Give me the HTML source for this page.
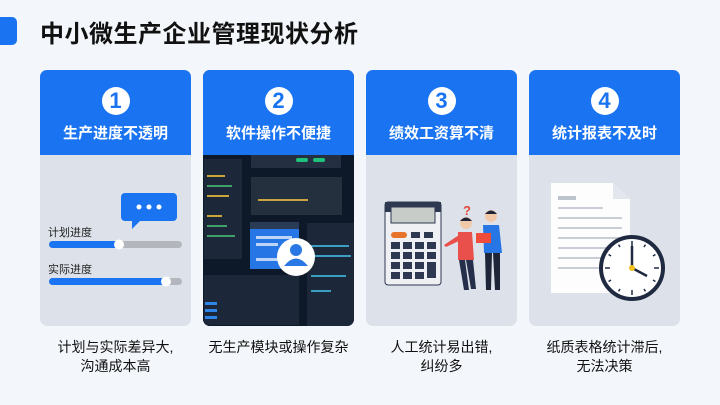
<!DOCTYPE html>
<html><head><meta charset="utf-8"><style>
*{margin:0;padding:0;box-sizing:border-box}
body{width:720px;height:405px;background:#f3f6fb;font-family:"Liberation Sans","Noto Sans CJK SC",sans-serif;position:relative;overflow:hidden}
.bar{position:absolute;left:-8px;top:17px;width:25px;height:28px;background:#1a73f0;border-radius:5px}
h1{position:absolute;left:40px;top:14px;font-size:24px;font-weight:bold;color:#111;letter-spacing:0.5px}
.card{position:absolute;top:70px;width:151px;height:256px;border-radius:7px;overflow:hidden;background:#dde2ea}
.hd{height:85px;background:#1a74f2;color:#fff;text-align:center}
.num{width:28px;height:28px;border-radius:50%;background:#fff;color:#1a74f2;font-weight:bold;font-size:22px;line-height:28px;margin:0 auto;position:relative;top:17px}
.tt{position:relative;top:24px;font-size:15px;font-weight:bold}
.cap{position:absolute;top:338px;width:151px;text-align:center;font-size:14px;line-height:19px;color:#111}
svg{position:absolute;left:0;top:85px}
</style></head><body>
<div class="bar"></div>
<h1>中小微生产企业管理现状分析</h1>

<div class="card" style="left:40px"><div class="hd"><div class="num">1</div><div class="tt">生产进度不透明</div></div>
<svg width="151" height="171">
<rect x="81" y="38" width="56" height="28" rx="4" fill="#1a74f2"/><path d="M92 64 L92 74 L102 64Z" fill="#1a74f2"/>
<circle cx="99" cy="52" r="2.5" fill="#fff"/><circle cx="109" cy="52" r="2.5" fill="#fff"/><circle cx="119" cy="52" r="2.5" fill="#fff"/>
<text x="8" y="81" font-size="11" fill="#222">计划进度</text>
<rect x="9" y="86" width="133" height="7" rx="3.5" fill="#b3b7bd"/><rect x="9" y="86" width="71" height="7" rx="3.5" fill="#1a74f2"/><circle cx="79" cy="89.5" r="5" fill="#fff"/>
<text x="8" y="118" font-size="11" fill="#222">实际进度</text>
<rect x="9" y="123" width="133" height="7" rx="3.5" fill="#b3b7bd"/><rect x="9" y="123" width="118" height="7" rx="3.5" fill="#1a74f2"/><circle cx="126" cy="126.5" r="5" fill="#fff"/>
</svg></div>
<div class="cap" style="left:40px">计划与实际差异大,<br>沟通成本高</div>

<div class="card" style="left:203px;background:#0f1a2c"><div class="hd"><div class="num">2</div><div class="tt">软件操作不便捷</div></div>
<svg width="151" height="171">
<rect x="0" y="0" width="151" height="171" fill="#0d1829"/>
<rect x="1" y="4" width="38" height="100" fill="#1c2739"/>
<g fill="#c9a43a"><rect x="4" y="20" width="18" height="2"/><rect x="4" y="40" width="22" height="2"/><rect x="4" y="60" width="15" height="2"/></g>
<g fill="#3fa06a"><rect x="4" y="30" width="25" height="2"/><rect x="4" y="70" width="20" height="2"/><rect x="4" y="80" width="28" height="2"/></g>
<rect x="48" y="0" width="90" height="13" fill="#242f42"/><rect x="93" y="3" width="12" height="4" rx="2" fill="#1ec27b"/><rect x="110" y="3" width="12" height="4" rx="2" fill="#1ec27b"/>
<rect x="48" y="22" width="91" height="38" fill="#25303f"/><rect x="55" y="44" width="50" height="2" fill="#c9a43a"/>
<rect x="47" y="67" width="49" height="47" fill="#2776e6"/><rect x="47" y="67" width="49" height="7" fill="#2a3b55"/>
<rect x="53" y="81" width="36" height="3" fill="#bcd4f7"/><rect x="53" y="88" width="22" height="3" fill="#bcd4f7"/><rect x="53" y="103" width="26" height="3" fill="#bcd4f7"/>
<rect x="104" y="68" width="47" height="105" fill="#1c2739"/>
<g fill="#3a9fc0"><rect x="108" y="90" width="38" height="2"/><rect x="108" y="100" width="40" height="2"/><rect x="108" y="120" width="35" height="2"/><rect x="108" y="135" width="20" height="2"/></g>
<rect x="1" y="120" width="95" height="50" fill="#1c2739"/>
<g fill="#2f86e8"><rect x="2" y="147" width="12" height="3"/><rect x="2" y="154" width="12" height="3"/><rect x="2" y="161" width="12" height="3"/></g>
<circle cx="93" cy="102" r="19" fill="#fff"/><circle cx="93" cy="95" r="6" fill="#2a78e4"/><path d="M81 111 Q93 96 105 111Z" fill="#2a78e4"/>
</svg></div>
<div class="cap" style="left:203px">无生产模块或操作复杂</div>

<div class="card" style="left:366px"><div class="hd"><div class="num">3</div><div class="tt">绩效工资算不清</div></div>
<svg width="151" height="171">
<rect x="19" y="47" width="56" height="83" rx="3" fill="#eef0f3" stroke="#2e3850" stroke-width="1"/><rect x="19" y="47" width="56" height="10" fill="#2e3850"/>
<rect x="25" y="52" width="44" height="16" fill="#c8ccc8" stroke="#2e3850"/>
<rect x="25" y="77" width="16" height="6" rx="3" fill="#e8742a"/>
<g fill="#2e3850"><rect x="45" y="77" width="9" height="6"/><rect x="58" y="77" width="9" height="6"/>
<rect x="25" y="87" width="9" height="7"/><rect x="37" y="87" width="9" height="7"/><rect x="49" y="87" width="9" height="7"/><rect x="61" y="87" width="9" height="7"/>
<rect x="25" y="97" width="9" height="7"/><rect x="37" y="97" width="9" height="7"/><rect x="49" y="97" width="9" height="7"/><rect x="61" y="97" width="9" height="7"/>
<rect x="25" y="107" width="9" height="7"/><rect x="37" y="107" width="9" height="7"/><rect x="49" y="107" width="9" height="7"/><rect x="61" y="107" width="9" height="16"/>
<rect x="25" y="117" width="9" height="7"/><rect x="37" y="117" width="9" height="7"/><rect x="49" y="117" width="9" height="7"/></g>
<text x="97" y="60" font-size="13" font-weight="bold" fill="#e04a3a">?</text>
<circle cx="100" cy="68" r="6" fill="#f2c9a8"/><path d="M94 66 Q100 59 106 66Z" fill="#1e2538"/>
<path d="M92 77 L106 77 L108 105 L92 105Z" fill="#e9504b"/><path d="M93 80 L78 90 L80 92 L95 85Z" fill="#e9504b"/>
<path d="M93 105 L99 105 L103 135 L98 135Z M100 105 L107 105 L110 134 L105 134Z" fill="#252e4a"/>
<circle cx="125" cy="61" r="6" fill="#f2c9a8"/><path d="M119 59 Q125 52 131 59Z" fill="#1e2538"/>
<path d="M117 70 L133 70 L136 98 L118 98Z" fill="#2776e6"/><rect x="110" y="78" width="15" height="10" fill="#ef4c3a"/>
<path d="M119 98 L126 98 L125 135 L120 135Z M127 98 L134 98 L134 135 L129 135Z" fill="#1e2538"/>
</svg></div>
<div class="cap" style="left:366px">人工统计易出错,<br>纠纷多</div>

<div class="card" style="left:529px"><div class="hd"><div class="num">4</div><div class="tt">统计报表不及时</div></div>
<svg width="151" height="171">
<path d="M22 28 L84 28 L101 44 L101 138 L22 138Z" fill="#fdfdfe"/><path d="M84 28 L101 44 L84 44Z" fill="#e3e6ec"/>
<rect x="29" y="41" width="18" height="4" fill="#bcc3cd"/>
<g fill="#c9ced6"><rect x="29" y="52" width="45" height="2"/><rect x="29" y="62" width="64" height="2"/><rect x="29" y="72" width="64" height="2"/><rect x="29" y="82" width="64" height="2"/><rect x="29" y="92" width="64" height="2"/><rect x="29" y="102" width="64" height="2"/><rect x="29" y="112" width="50" height="2"/></g>
<circle cx="103" cy="113" r="31" fill="#fff" stroke="#1f2a40" stroke-width="4"/>
<g stroke="#1f2a40" stroke-width="1.5">
<line x1="103" y1="86" x2="103" y2="91"/><line x1="103" y1="135" x2="103" y2="140"/><line x1="76" y1="113" x2="81" y2="113"/><line x1="125" y1="113" x2="130" y2="113"/>
<line x1="116.5" y1="89.6" x2="115" y2="92"/><line x1="126.4" y1="99.5" x2="124" y2="101"/><line x1="126.4" y1="126.5" x2="124" y2="125"/><line x1="116.5" y1="136.4" x2="115" y2="134"/>
<line x1="89.5" y1="89.6" x2="91" y2="92"/><line x1="79.6" y1="99.5" x2="82" y2="101"/><line x1="79.6" y1="126.5" x2="82" y2="125"/><line x1="89.5" y1="136.4" x2="91" y2="134"/></g>
<line x1="103" y1="113" x2="103" y2="91" stroke="#1f2a40" stroke-width="2.5"/><line x1="103" y1="113" x2="118" y2="121" stroke="#1f2a40" stroke-width="2.5"/>
<circle cx="103" cy="113" r="3" fill="#f3c020"/>
</svg></div>
<div class="cap" style="left:529px">纸质表格统计滞后,<br>无法决策</div>
</body></html>
